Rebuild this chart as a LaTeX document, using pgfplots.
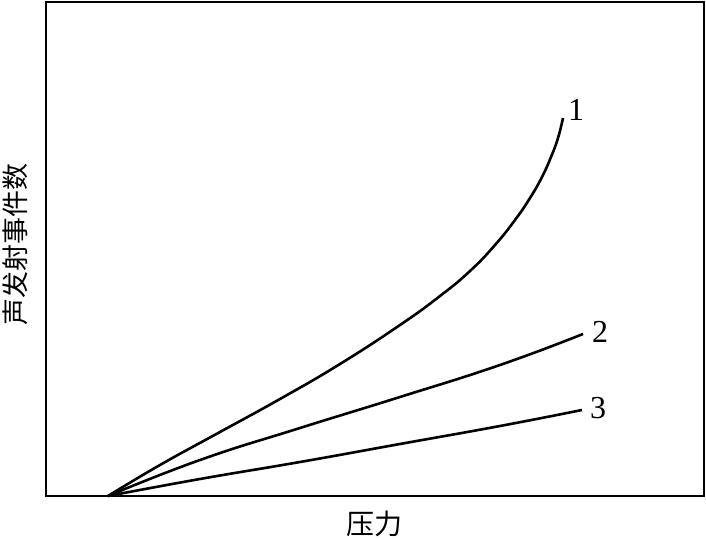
\documentclass[border=0pt]{standalone}
\usepackage{pgfplots}
\pgfplotsset{compat=1.18}
\usepackage{fontspec}
\setmainfont{Liberation Serif}
\newfontfamily\cjk{Noto Sans CJK SC}
\begin{document}
\begin{tikzpicture}[x=1pt,y=1pt]
\useasboundingbox (0,0) rectangle (706,540);
\begin{axis}[
  at={(46pt,44pt)}, anchor=south west,
  width=658pt, height=494pt, scale only axis,
  xmin=46, xmax=704, ymin=0, ymax=494,
  axis line style={line width=2pt},
  xtick=\empty, ytick=\empty,
  clip=false,
]
\addplot[black, line width=2.6pt, no marks, smooth, tension=0.8] coordinates {(108,0) (160,31) (220,64) (280,97) (340,132) (400,171) (440,200) (470,225) (495,251) (515,276) (530,298) (542,319) (551,339) (558,358) (563,378)};
\addplot[black, line width=2.6pt, no marks, smooth, tension=0.8] coordinates {(108,0) (200,36) (300,68) (400,99) (500,131) (583,162)};
\addplot[black, line width=2.6pt, no marks, smooth, tension=0.8] coordinates {(108,0) (200,17) (300,34) (400,52) (500,70) (582,86)};
\node[font=\fontsize{32}{32}\selectfont] at (axis cs:576,386) {1};
\node[font=\fontsize{32}{32}\selectfont] at (axis cs:600,164) {2};
\node[font=\fontsize{32}{32}\selectfont] at (axis cs:598,88) {3};
\end{axis}
\node[rotate=90, font=\fontsize{27}{27}\selectfont\cjk] at (15,295) {声发射事件数};
\node[font=\fontsize{28}{28}\selectfont\cjk] at (374,16) {压力};
\end{tikzpicture}
\end{document}
